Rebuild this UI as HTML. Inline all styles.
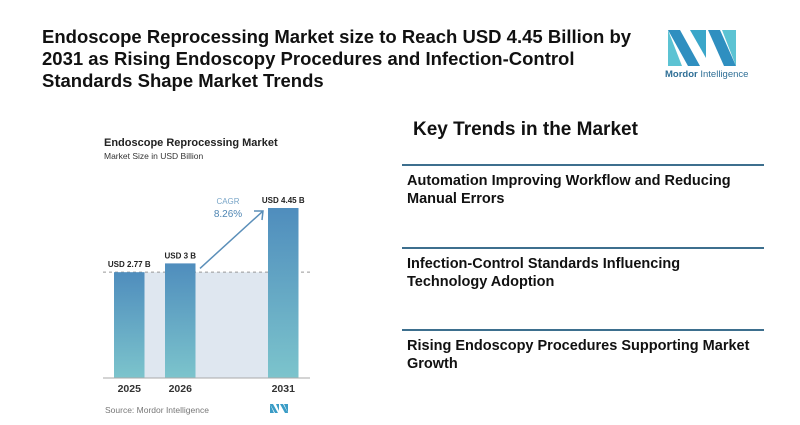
<!DOCTYPE html>
<html><head><meta charset="utf-8"><style>
body{margin:0;width:800px;height:425px;background:#fff;font-family:"Liberation Sans",sans-serif;position:relative;overflow:hidden}
.t{position:absolute;left:42px;top:26px;font-weight:bold;font-size:18.5px;line-height:22px;color:#111;width:610px}
.kt{position:absolute;left:413px;top:119px;font-size:19px;font-weight:bold;color:#111}
.hr{position:absolute;left:402px;width:362px;height:2px;background:#3d6f8e}
.it{position:absolute;left:407px;font-size:14.5px;font-weight:bold;line-height:18px;color:#111;width:355px}
</style></head><body>
<div class="t">Endoscope Reprocessing Market size to Reach USD 4.45 Billion by 2031 as Rising Endoscopy Procedures and Infection-Control Standards Shape Market Trends</div>
<svg style="position:absolute;left:660px;top:26px" width="90" height="56">
<polygon points="8,4 20,4 40,40 28,40" fill="#2f8fc0"/><polygon points="8,4 8,40 22,40" fill="#5cc3d3"/>
<polygon points="30,4 46,4 46,32" fill="#3aa6c9"/><polygon points="48,4 60,4 76,40 64,40" fill="#2f8fc0"/><polygon points="62,4 76,4 76,40" fill="#5cc3d3"/>
<text x="5" y="51" font-size="9.5" fill="#2f6f96" font-family="Liberation Sans"><tspan font-weight="bold">Mordor</tspan> Intelligence</text></svg>
<svg id="chart" style="position:absolute;left:0;top:0" width="400" height="425"></svg>
<div class="kt">Key Trends in the Market</div>
<div class="hr" style="top:164px"></div>
<div class="it" style="top:172px">Automation Improving Workflow and Reducing Manual Errors</div>
<div class="hr" style="top:247px"></div>
<div class="it" style="top:255px">Infection-Control Standards Influencing Technology Adoption</div>
<div class="hr" style="top:329px"></div>
<div class="it" style="top:337px">Rising Endoscopy Procedures Supporting Market Growth</div>
<script>
const categories=["2025","2026","2031"];
const values=[2.77,3,4.45];
const valueLabels=["USD 2.77 B","USD 3 B","USD 4.45 B"];
const cagr="8.26%";
const NS="http://www.w3.org/2000/svg";
const svg=document.getElementById('chart');
function mk(t,a,txt){const e=document.createElementNS(NS,t);for(const k in a)e.setAttribute(k,a[k]);if(txt)e.textContent=txt;svg.appendChild(e);return e;}
const base=378,scale=38.2;
const xLeft=[114,165,268],bw=30.5;
const y=v=>base-v*scale;
let d=mk('defs',{});d.innerHTML='<linearGradient id="g" x1="0" y1="0" x2="0" y2="1"><stop offset="0" stop-color="#4f8dbd"/><stop offset="1" stop-color="#7cc4cc"/></linearGradient>';
let e;
e=mk('text',{x:104,y:146,'font-size':11,'font-weight':'bold',fill:'#222'},'Endoscope Reprocessing Market');
e=mk('text',{x:104,y:159,'font-size':8.5,fill:'#333'},'Market Size in USD Billion');
e=mk('rect',{x:xLeft[0]+bw,y:y(values[0]),width:xLeft[2]-xLeft[0]-bw,height:base-y(values[0]),fill:'#dfe7f0'});
e=mk('line',{x1:103,x2:310,y1:y(values[0]),y2:y(values[0]),stroke:'#999','stroke-dasharray':'3,3','stroke-width':1});
values.forEach((v,i)=>{
 const b=mk('rect',{x:xLeft[i],y:y(v),width:bw,height:base-y(v),fill:'url(#g)'});
 
 
 const l=mk('text',{x:xLeft[i]+bw/2,y:y(v)-5,'font-size':8,'font-weight':'bold','text-anchor':'middle',fill:'#222'},valueLabels[i]);
 
 
 const c=mk('text',{x:xLeft[i]+bw/2,y:392,'font-size':10.5,'font-weight':'bold','text-anchor':'middle',fill:'#333'},categories[i]);
 
 
});
e=mk('line',{x1:103,x2:310,y1:base,y2:base,stroke:'#aaa','stroke-width':1});
e=mk('path',{d:`M200,${y(values[1])+5} L263,${y(values[2])+3} M254,${y(values[2])+3} L263,${y(values[2])+3} L262,${y(values[2])+12}`,stroke:'#5b8fb9','stroke-width':1.5,fill:'none'});
e=mk('text',{x:228,y:204,'font-size':8,'text-anchor':'middle',fill:'#7aa6c8'},'CAGR');
e=mk('text',{x:228,y:217,'font-size':10,'text-anchor':'middle',fill:'#4f86b3'},cagr);
e=mk('text',{x:105,y:413,'font-size':8.5,fill:'#777'},'Source:  Mordor Intelligence');
e=mk('path',{d:'M270,404 h3 l5,9 h-3z M270,404 v9 h4z M276,404 h3 v7z M280,404 h3 l5,9 h-3z M284,404 h4 v9z',fill:'#3a9cc6'});
</script>
</body></html>
